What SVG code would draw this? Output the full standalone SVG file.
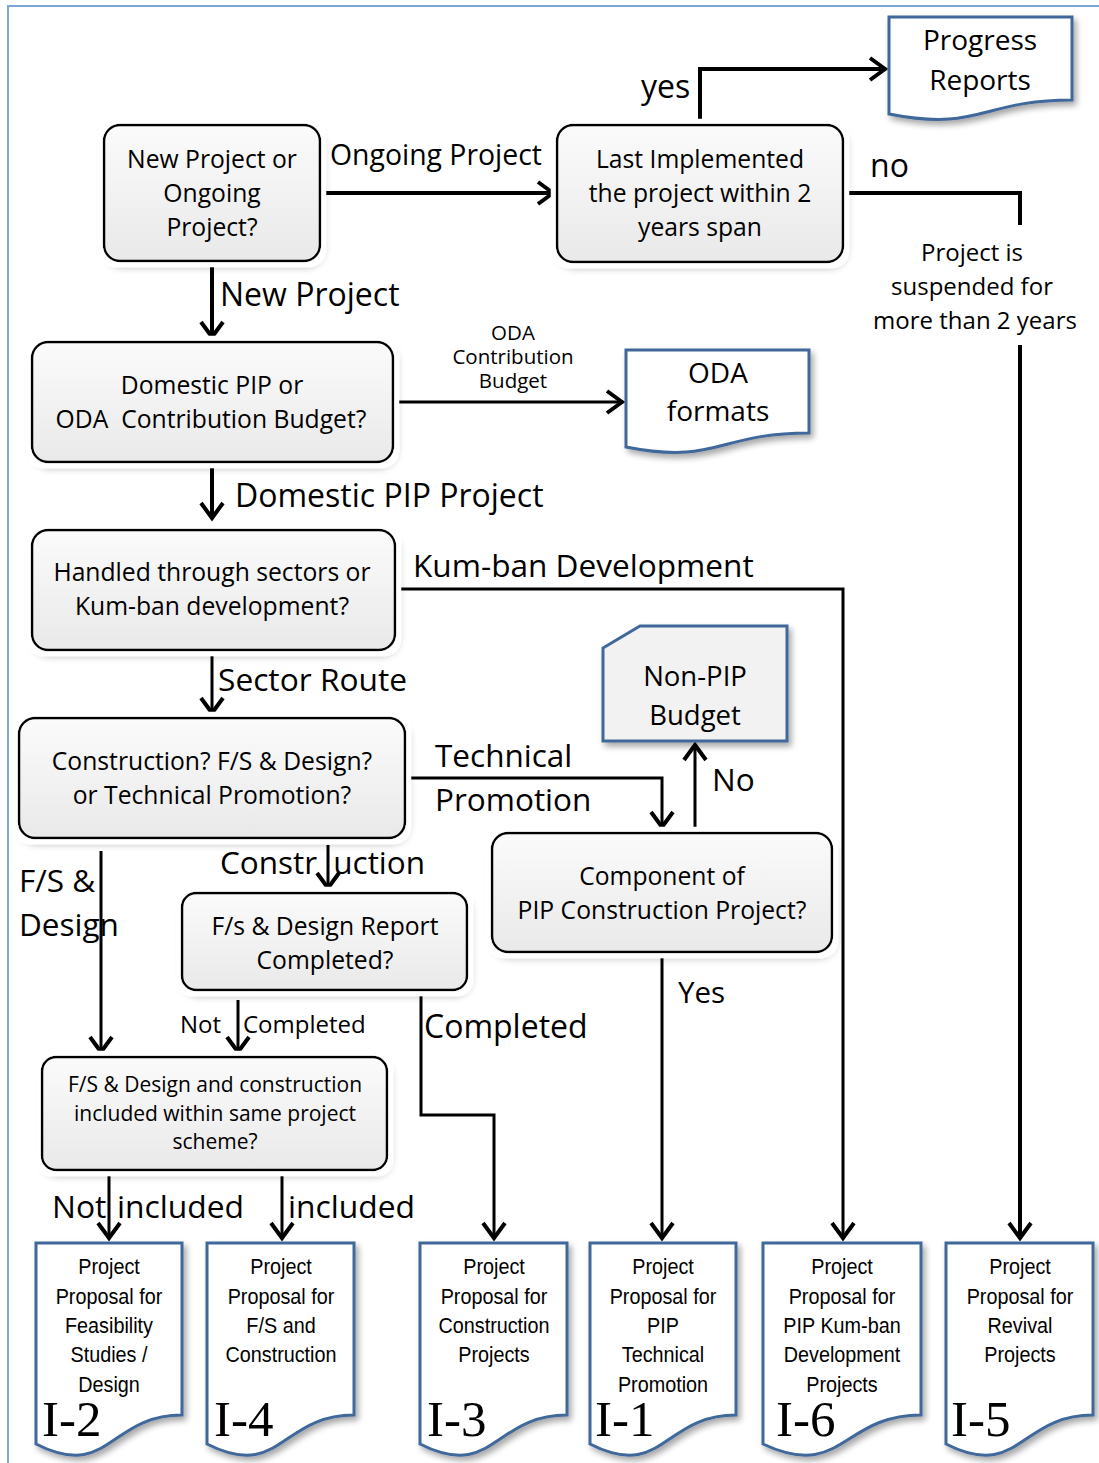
<svg xmlns="http://www.w3.org/2000/svg" width="1099" height="1463" viewBox="0 0 1099 1463">
<style>
.node{fill:url(#g);stroke:#000;stroke-width:2.5;filter:url(#sh)}
.doc{fill:#fff;stroke:#3f679a;stroke-width:3;filter:url(#sh2)}
.t{font-family:"Open Sans",Lato,"Liberation Sans",sans-serif;fill:#000;text-anchor:middle}
.n{font-size:24.7px}
.l{font-family:"Open Sans",Lato,"Liberation Sans",sans-serif;fill:#000}
.d{font-family:"Liberation Sans",Arial,sans-serif;font-size:22px;text-anchor:middle;fill:#000}
.big{font-family:"Liberation Serif","Times New Roman",serif;font-size:51px;fill:#000}
.c{fill:none;stroke:#000;stroke-width:4}
.c3{fill:none;stroke:#000;stroke-width:3}
</style>
<defs>
<linearGradient id="g" x1="0" y1="0" x2="0" y2="1">
<stop offset="0" stop-color="#fbfbfb"/>
<stop offset="1" stop-color="#e9e9e9"/>
</linearGradient>
<filter id="sh" x="-10%" y="-10%" width="120%" height="130%">
<feMorphology in="SourceAlpha" operator="dilate" radius="5" result="d"/>
<feFlood flood-color="#fff"/>
<feComposite in2="d" operator="in" result="w"/>
<feGaussianBlur in="SourceAlpha" stdDeviation="4" result="b"/>
<feOffset in="b" dx="2" dy="4" result="o"/>
<feComponentTransfer in="o" result="s"><feFuncA type="linear" slope="0.35"/></feComponentTransfer>
<feMerge><feMergeNode in="s"/><feMergeNode in="w"/><feMergeNode in="SourceGraphic"/></feMerge>
</filter>
<filter id="sh2" x="-10%" y="-10%" width="125%" height="125%">
<feGaussianBlur in="SourceAlpha" stdDeviation="3" result="b"/>
<feOffset in="b" dx="3" dy="4" result="o"/>
<feComponentTransfer in="o" result="s"><feFuncA type="linear" slope="0.35"/></feComponentTransfer>
<feMerge><feMergeNode in="s"/><feMergeNode in="SourceGraphic"/></feMerge>
</filter>
<marker id="a" markerUnits="userSpaceOnUse" markerWidth="40" markerHeight="40" viewBox="-20 -20 40 40" refX="0" refY="0" orient="auto" overflow="visible">
<path d="M-15,-11 L0,0 L-15,11" fill="none" stroke="#000" stroke-width="4"/>
</marker>
</defs>
<rect width="1099" height="1463" fill="#fff"/>
<path d="M8,1463 V6 H1099" fill="none" stroke="#7ea6d6" stroke-width="2"/>

<g id="connectors">
<path class="c" d="M320,193 H553" marker-end="url(#a)"/>
<path class="c" d="M700,125 V69 H885" marker-end="url(#a)"/>
<path class="c" d="M843,193 H1020 V225"/>
<path class="c" d="M1020,345 V1238" marker-end="url(#a)"/>
<path class="c" d="M212,262 V337" marker-end="url(#a)"/>
<path class="c3" d="M393,402 H622" marker-end="url(#a)"/>
<path class="c" d="M212,462 V518" marker-end="url(#a)"/>
<path class="c3" d="M395,589 H843 V1238" marker-end="url(#a)"/>
<path class="c3" d="M212,650 V713" marker-end="url(#a)"/>
<path class="c3" d="M405,778 H662 V827" marker-end="url(#a)"/>
<path class="c3" d="M695,832 V745" marker-end="url(#a)"/>
<path class="c3" d="M662,952 V1238" marker-end="url(#a)"/>
<path class="c3" d="M328,845 V888" marker-end="url(#a)"/>
<path class="c3" d="M101,851 V1052" marker-end="url(#a)"/>
<path class="c3" d="M238,1000 V1052" marker-end="url(#a)"/>
<path class="c3" d="M421,988 V1115 H494 V1238" marker-end="url(#a)"/>
<path class="c3" d="M109,1170 V1238" marker-end="url(#a)"/>
<path class="c3" d="M282,1170 V1238" marker-end="url(#a)"/>
</g>

<g id="labels">
<text class="l" x="330" y="165" style="font-size:28.4px">Ongoing Project</text>
<text class="l" x="641" y="98" style="font-size:32px">yes</text>
<text class="l" x="870" y="177" style="font-size:32px">no</text>
<text class="t" x="972" y="261" font-size="24">Project is</text>
<text class="t" x="972" y="295" font-size="24">suspended for</text>
<text class="t" x="975" y="329" font-size="24">more than 2 years</text>
<text class="l" x="220" y="306" style="font-size:32px">New Project</text>
<text class="t" x="513" y="340" font-size="20.5">ODA</text>
<text class="t" x="513" y="364" font-size="20.5">Contribution</text>
<text class="t" x="513" y="388" font-size="20.5">Budget</text>
<text class="l" x="235" y="507" style="font-size:32px">Domestic PIP Project</text>
<text class="l" x="413" y="577" style="font-size:31.6px">Kum-ban Development</text>
<text class="l" x="218" y="691" style="font-size:31.7px">Sector Route</text>
<text class="l" x="435" y="767" style="font-size:31.5px">Technical</text>
<text class="l" x="435" y="811" style="font-size:31.5px">Promotion</text>
<text class="l" x="712" y="791" style="font-size:31.5px">No</text>
<text class="l" x="220" y="874" style="font-size:31.5px">Constr<tspan dx="16">uction</tspan></text>
<text class="l" x="19" y="892" style="font-size:31.5px">F/S &amp;</text>
<text class="l" x="19" y="936" style="font-size:31.5px">Design</text>
<text class="l" x="678" y="1003" style="font-size:29.5px">Yes</text>
<text class="l" x="180" y="1033" style="font-size:24px">Not</text>
<text class="l" x="243" y="1033" style="font-size:24px">Completed</text>
<text class="l" x="424" y="1038" style="font-size:32px">Completed</text>
<text class="l" x="52" y="1218" style="font-size:31.8px">Not</text>
<text class="l" x="117" y="1218" style="font-size:31.8px">included</text>
<text class="l" x="288" y="1218" style="font-size:31.8px">included</text>
</g>

<g id="n1">
<rect class="node" x="104" y="125" width="216" height="136" rx="16"/>
<text class="t n" x="212" y="168">New Project or</text>
<text class="t n" x="212" y="202">Ongoing</text>
<text class="t n" x="212" y="236">Project?</text>
</g>
<g id="n2">
<rect class="node" x="557" y="125" width="286" height="137" rx="16"/>
<text class="t n" x="700" y="168">Last Implemented</text>
<text class="t n" x="700" y="202">the project within 2</text>
<text class="t n" x="700" y="236">years span</text>
</g>
<g id="n3">
<rect class="node" x="32" y="342" width="361" height="120" rx="16"/>
<text class="t n" x="212" y="394">Domestic PIP or</text>
<text class="t n" x="211" y="428" xml:space="preserve">ODA  Contribution Budget?</text>
</g>
<g id="n4">
<rect class="node" x="32" y="530" width="363" height="120" rx="16"/>
<text class="t n" x="212" y="581">Handled through sectors or</text>
<text class="t n" x="212" y="615">Kum-ban development?</text>
</g>
<g id="n5">
<rect class="node" x="19" y="718" width="386" height="120" rx="16"/>
<text class="t n" x="212" y="770">Construction? F/S &amp; Design?</text>
<text class="t n" x="212" y="804">or Technical Promotion?</text>
</g>
<g id="n6">
<rect class="node" x="492" y="833" width="340" height="119" rx="16"/>
<text class="t n" x="662" y="885">Component of</text>
<text class="t n" x="662" y="919">PIP Construction Project?</text>
</g>
<g id="n7">
<rect class="node" x="182" y="893" width="285" height="97" rx="14"/>
<text class="t n" x="325" y="935">F/s &amp; Design Report</text>
<text class="t n" x="325" y="969">Completed?</text>
</g>
<g id="n8">
<rect class="node" x="42" y="1057" width="345" height="113" rx="14"/>
<text class="t" font-size="21" x="215" y="1092">F/S &amp; Design and construction</text>
<text class="t" font-size="21" x="215" y="1121">included within same project</text>
<text class="t" font-size="21" x="215" y="1149">scheme?</text>
</g>

<g id="progress">
<path class="doc" d="M889,17 H1072 V100 C980.5,100 980.5,132 889,114 Z"/>
<text class="t" font-size="28" x="980" y="50">Progress</text>
<text class="t" font-size="28" x="980" y="90">Reports</text>
</g>
<g id="oda">
<path class="doc" d="M626,350 H809 V433 C717.5,433 717.5,465 626,447 Z"/>
<text class="t" font-size="28" x="718" y="383">ODA</text>
<text class="t" font-size="28" x="718" y="421">formats</text>
</g>
<g id="nonpip">
<path class="doc" d="M603,648 L640,626 H787 V741 H603 Z" style="fill:#f2f2f2"/>
<text class="t" font-size="27.5" x="695" y="686">Non-PIP</text>
<text class="t" font-size="27.5" x="695" y="725">Budget</text>
</g>

<g id="d2">
<path class="doc" d="M36,1243 H182 V1415 C109,1415 109,1481 36,1444 Z"/>
<g transform="translate(109,0) scale(0.9,1)">
<text class="d" x="0" y="1274">Project</text>
<text class="d" x="0" y="1304">Proposal for</text>
<text class="d" x="0" y="1333">Feasibility</text>
<text class="d" x="0" y="1362">Studies /</text>
<text class="d" x="0" y="1392">Design</text>
</g>
<text class="big" x="42" y="1436">I-2</text>
</g>
<g id="d4">
<path class="doc" d="M207,1243 H354 V1415 C280.5,1415 280.5,1481 207,1444 Z"/>
<g transform="translate(281,0) scale(0.9,1)">
<text class="d" x="0" y="1274">Project</text>
<text class="d" x="0" y="1304">Proposal for</text>
<text class="d" x="0" y="1333">F/S and</text>
<text class="d" x="0" y="1362">Construction</text>
</g>
<text class="big" x="214" y="1436">I-4</text>
</g>
<g id="d3">
<path class="doc" d="M420,1243 H567 V1415 C493.5,1415 493.5,1481 420,1444 Z"/>
<g transform="translate(494,0) scale(0.9,1)">
<text class="d" x="0" y="1274">Project</text>
<text class="d" x="0" y="1304">Proposal for</text>
<text class="d" x="0" y="1333">Construction</text>
<text class="d" x="0" y="1362">Projects</text>
</g>
<text class="big" x="427" y="1436">I-3</text>
</g>
<g id="d1">
<path class="doc" d="M590,1243 H736 V1415 C663,1415 663,1481 590,1444 Z"/>
<g transform="translate(663,0) scale(0.9,1)">
<text class="d" x="0" y="1274">Project</text>
<text class="d" x="0" y="1304">Proposal for</text>
<text class="d" x="0" y="1333">PIP</text>
<text class="d" x="0" y="1362">Technical</text>
<text class="d" x="0" y="1392">Promotion</text>
</g>
<text class="big" x="595" y="1436">I-1</text>
</g>
<g id="d6">
<path class="doc" d="M763,1243 H921 V1415 C842,1415 842,1481 763,1444 Z"/>
<g transform="translate(842,0) scale(0.9,1)">
<text class="d" x="0" y="1274">Project</text>
<text class="d" x="0" y="1304">Proposal for</text>
<text class="d" x="0" y="1333">PIP Kum-ban</text>
<text class="d" x="0" y="1362">Development</text>
<text class="d" x="0" y="1392">Projects</text>
</g>
<text class="big" x="776" y="1436">I-6</text>
</g>
<g id="d5">
<path class="doc" d="M946,1243 H1093 V1415 C1019.5,1415 1019.5,1481 946,1444 Z"/>
<g transform="translate(1020,0) scale(0.9,1)">
<text class="d" x="0" y="1274">Project</text>
<text class="d" x="0" y="1304">Proposal for</text>
<text class="d" x="0" y="1333">Revival</text>
<text class="d" x="0" y="1362">Projects</text>
</g>
<text class="big" x="951" y="1436">I-5</text>
</g>
</svg>
